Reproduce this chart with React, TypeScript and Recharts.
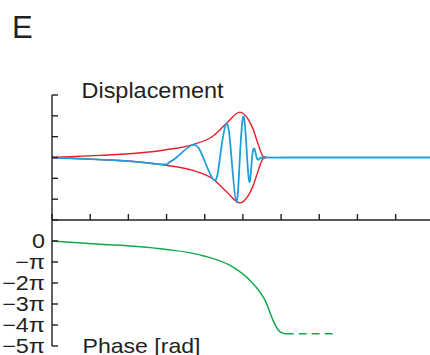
import React from 'react';
import { LineChart, Line, XAxis, YAxis } from 'recharts';

const W = 430;
const H = 355;
const AXIS = '#231f20';
const FONT = '"Liberation Sans", Arial, sans-serif';

// envelope of the displacement (red), x in axis units
const envX = [0, 1.26, 2.12, 2.9, 3.69, 4.21, 4.58, 4.92, 5.14, 5.27, 5.4, 5.53, 5.62];
const envUpper = [0, 0.1, 0.19, 0.35, 0.62, 1.02, 1.66, 2.18, 1.83, 1.35, 0.63, 0.05, 0];
const envLower = [0, -0.1, -0.19, -0.35, -0.62, -1.02, -1.66, -2.18, -1.83, -1.35, -0.63, -0.05, 0];

// displacement wave (blue)
const waveX = [0, 1.0, 2.0, 2.9, 3.05, 3.26, 3.68, 3.96, 4.25, 4.4, 4.57, 4.7, 4.83, 4.92, 5.02, 5.11, 5.18, 5.24, 5.3, 5.36, 5.41, 5.5, 5.7, 6.2, 9.9];
const waveY = [0, -0.08, -0.17, -0.33, -0.26, 0, 0.6, 0, -1.09, 0, 1.62, 0, -2.12, 0, 1.97, 0, -1.16, 0, 0.42, 0, -0.1, 0, 0, 0, 0];

// phase (green), in units of pi
const phaseX = [0, 1.26, 2.13, 3.0, 3.98, 4.74, 5.18, 5.62, 5.79, 5.93, 6.06, 6.12];
const phaseY = [0, -0.16, -0.25, -0.4, -0.71, -1.24, -1.87, -2.98, -3.78, -4.25, -4.4, -4.42];
const phaseTailX = [6.12, 7.43];
const phaseTailY = [-4.42, -4.42];

const xTicks = [0, 1, 2, 3, 4, 5, 6, 7, 8, 9];
const dispTicks = [-3, -2, -1, 0, 1, 2, 3];
const phaseTicks = [-5, -4, -3, -2, -1, 0];
const phaseTickLabels = ['−5π', '−4π', '−3π', '−2π', '−π', '0'];

const zip = (xs: number[], ys: number[]) => xs.map((x, i) => ({ x, y: ys[i] }));

const envUpperData = zip(envX, envUpper);
const envLowerData = zip(envX, envLower);
const waveData = zip(waveX, waveY);
const phaseData = zip(phaseX, phaseY);
const phaseTailData = zip(phaseTailX, phaseTailY);

const DispTick = ({ x, y }: any) => (
  <line x1={x} x2={x + 6} y1={y} y2={y} stroke={AXIS} strokeWidth={1.4} />
);

const PhaseTick = ({ x, y, payload }: any) => {
  const label = phaseTickLabels[phaseTicks.indexOf(payload.value)];
  return (
    <g>
      <line x1={x + 7} x2={x + 13} y1={y} y2={y} stroke={AXIS} strokeWidth={1.4} />
      <text
        transform={`translate(${x},${y}) scale(1.17,1)`}
        dy="0.34em"
        textAnchor="end"
        fontSize={20}
        fontFamily={FONT}
        fill={AXIS}
      >
        {label}
      </text>
    </g>
  );
};

const NoTick = () => <g />;

export default function App() {
  return (
    <div style={{ position: 'absolute', left: 0, top: 0, width: W, height: H, background: '#fff' }}>
      {/* phase panel, also holds the shared x axis */}
      <div style={{ position: 'absolute', left: 0, top: 0 }}>
        <LineChart width={W} height={H} margin={{ top: 200, right: 0, bottom: 9, left: 0 }}>
          <XAxis
            xAxisId="p"
            type="number"
            dataKey="x"
            orientation="top"
            height={20}
            domain={[0, 9.9]}
            ticks={xTicks}
            interval={0}
            tick={NoTick}
            tickSize={6}
            stroke={AXIS}
            strokeWidth={1.4}
          />
          <YAxis
            yAxisId="p"
            type="number"
            width={52}
            domain={[-5, 1]}
            ticks={phaseTicks}
            interval={0}
            tick={PhaseTick}
            tickLine={false}
            tickSize={0}
            tickMargin={7}
            stroke={AXIS}
            strokeWidth={1.4}
          />
          <Line xAxisId="p" yAxisId="p" data={phaseData} dataKey="y" type="monotone" stroke="#14a64c" strokeWidth={1.5} dot={false} isAnimationActive={false} />
          <Line xAxisId="p" yAxisId="p" data={phaseTailData} dataKey="y" type="linear" stroke="#14a64c" strokeWidth={1.5} strokeDasharray="8 5" dot={false} isAnimationActive={false} />
        </LineChart>
      </div>
      {/* displacement panel */}
      <div style={{ position: 'absolute', left: 0, top: 0 }}>
        <LineChart width={W} height={H} margin={{ top: 95, right: 0, bottom: 135, left: 0 }}>
          <XAxis xAxisId="d" type="number" dataKey="x" domain={[0, 9.9]} hide />
          <YAxis
            yAxisId="d"
            type="number"
            width={52}
            domain={[-3, 3]}
            ticks={dispTicks}
            interval={0}
            tick={DispTick}
            tickLine={false}
            tickSize={0}
            tickMargin={0}
            stroke={AXIS}
            strokeWidth={1.4}
          />
          <Line xAxisId="d" yAxisId="d" data={envUpperData} dataKey="y" type="monotone" stroke="#e5202a" strokeWidth={1.4} dot={false} isAnimationActive={false} />
          <Line xAxisId="d" yAxisId="d" data={envLowerData} dataKey="y" type="monotone" stroke="#e5202a" strokeWidth={1.4} dot={false} isAnimationActive={false} />
          <Line xAxisId="d" yAxisId="d" data={waveData} dataKey="y" type="natural" stroke="#1e9fdc" strokeWidth={1.8} dot={false} isAnimationActive={false} />
        </LineChart>
      </div>
      <svg width={W} height={H} style={{ position: 'absolute', left: 0, top: 0, pointerEvents: 'none' }}>
        <text x={12} y={37.5} fontSize={31} fontFamily={FONT} fill={AXIS}>E</text>
        <text x={81.5} y={98} fontSize={22} fontFamily={FONT} fill={AXIS} textLength={142} lengthAdjust="spacingAndGlyphs">Displacement</text>
        <text x={82.5} y={352.5} fontSize={21} fontFamily={FONT} fill={AXIS} textLength={118} lengthAdjust="spacingAndGlyphs">Phase [rad]</text>
      </svg>
    </div>
  );
}
